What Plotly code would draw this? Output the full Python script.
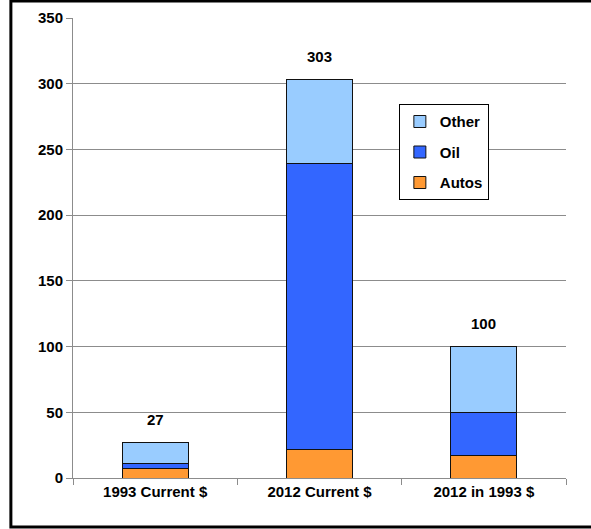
import plotly.graph_objects as go

categories = ["1993 Current $", "2012 Current $", "2012 in 1993 $"]
autos = [7, 22, 17]
oil = [4, 217, 33]
other = [16, 64, 50]
totals = [27, 303, 100]
y_ticks = [0, 50, 100, 150, 200, 250, 300, 350]

FONT = "Liberation Sans, Arial, sans-serif"
BF = dict(family=FONT, size=15, color="black", weight="bold")

fig = go.Figure()
for name, vals, col, rank in [("Autos", autos, "#FF9933", 3), ("Oil", oil, "#3366FF", 2),
                              ("Other", other, "#99CCFF", 1)]:
    fig.add_trace(go.Bar(x=categories, y=vals, name=name, width=0.4, legendgroup=name,
                         legendrank=rank,
                         marker=dict(color=col, line=dict(color="#111111", width=1))))

for c, t in zip(categories, totals):
    fig.add_annotation(x=c, y=t, text=str(t), showarrow=False,
                       yanchor="bottom", yshift=13, font=BF)

fig.add_shape(type="rect", xref="paper", yref="paper", x0=-0.126, x1=1.15, y0=-0.1065, y1=1.037,
              line=dict(color="black", width=3), fillcolor="rgba(0,0,0,0)", layer="above")

fig.update_layout(
    width=591, height=529,
    margin=dict(l=73, r=25, t=18, b=51, autoexpand=False),
    barmode="stack",
    paper_bgcolor="white", plot_bgcolor="white",
    font=BF,
    showlegend=True,
    legend=dict(x=0.661, y=0.8125, xanchor="left", yanchor="top", traceorder="grouped",
                bgcolor="white", bordercolor="black", borderwidth=1,
                font=BF, itemwidth=30, tracegroupgap=8),
)
fig.update_xaxes(type="category", showline=True, linecolor="#8c8c8c", linewidth=1,
                 ticks="outside", tickson="boundaries", ticklen=6, tickcolor="#8c8c8c",
                 tickfont=BF, automargin=False)
fig.update_yaxes(range=[0, 350], tickvals=y_ticks, showgrid=True, gridcolor="#8c8c8c", gridwidth=1,
                 showline=True, linecolor="#8c8c8c", linewidth=1, ticks="outside", ticklen=6,
                 tickcolor="#8c8c8c", zeroline=False, tickfont=BF, automargin=False)

fig.write_html("out.html", config={"displayModeBar": False},
               post_script="document.body.style.margin='0px';document.body.style.overflow='hidden';")
